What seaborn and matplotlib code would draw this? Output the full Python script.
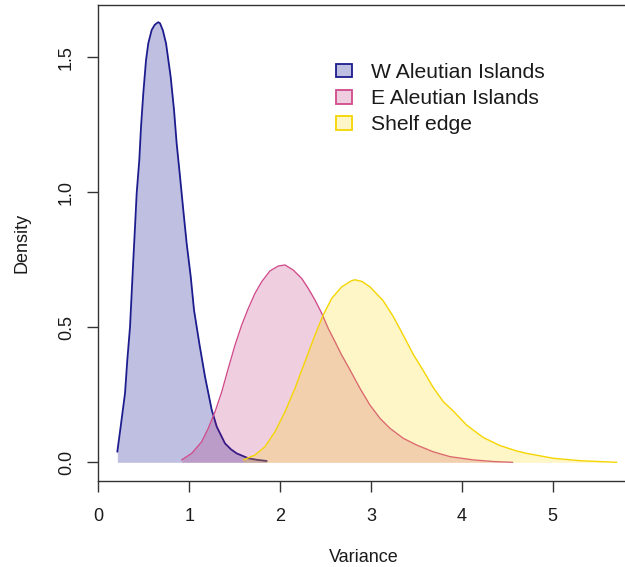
import matplotlib
matplotlib.use("Agg")
import matplotlib.pyplot as plt
import seaborn as sns
import pandas as pd
from matplotlib.patches import Patch

# ---- data ----
w_x = [0.209, 0.246, 0.294, 0.319, 0.349, 0.367, 0.385, 0.404, 0.422, 0.451, 0.470, 0.495,
       0.525, 0.550, 0.587, 0.620, 0.642, 0.660, 0.679, 0.710, 0.745, 0.796, 0.833, 0.862,
       0.899, 0.935, 0.972, 1.017, 1.053, 1.111, 1.174, 1.248, 1.303, 1.394, 1.460, 1.523,
       1.650, 1.750, 1.853]
w_y = [0.039, 0.132, 0.256, 0.379, 0.502, 0.626, 0.749, 0.873, 0.996, 1.120, 1.243, 1.367,
       1.490, 1.552, 1.601, 1.620, 1.626, 1.630, 1.626, 1.600, 1.552, 1.428, 1.305, 1.181,
       1.058, 0.934, 0.811, 0.687, 0.564, 0.441, 0.317, 0.194, 0.132, 0.070, 0.048, 0.033,
       0.015, 0.009, 0.005]

e_x = [0.917, 1.027, 1.137, 1.210, 1.284, 1.358, 1.430, 1.504, 1.578, 1.650, 1.724, 1.798,
       1.889, 1.980, 2.054, 2.145, 2.238, 2.310, 2.384, 2.458, 2.530, 2.604, 2.678, 2.760,
       2.879, 2.989, 3.099, 3.209, 3.355, 3.503, 3.685, 3.869, 4.125, 4.345, 4.559]
e_y = [0.009, 0.033, 0.076, 0.126, 0.187, 0.261, 0.348, 0.434, 0.509, 0.570, 0.626, 0.669,
       0.709, 0.727, 0.731, 0.712, 0.681, 0.644, 0.601, 0.552, 0.496, 0.447, 0.397, 0.348,
       0.274, 0.212, 0.163, 0.126, 0.089, 0.064, 0.039, 0.021, 0.009, 0.003, 0.000]

s_x = [1.595, 1.724, 1.834, 1.944, 2.054, 2.164, 2.274, 2.384, 2.475, 2.568, 2.678, 2.788,
       2.824, 2.900, 2.989, 3.135, 3.245, 3.355, 3.465, 3.575, 3.685, 3.795, 3.905, 4.052,
       4.235, 4.419, 4.603, 4.713, 5.006, 5.299, 5.703]
s_y = [0.009, 0.027, 0.058, 0.113, 0.187, 0.274, 0.373, 0.471, 0.546, 0.607, 0.650, 0.673,
       0.676, 0.670, 0.650, 0.598, 0.540, 0.471, 0.400, 0.340, 0.277, 0.225, 0.190, 0.138,
       0.092, 0.062, 0.042, 0.033, 0.015, 0.006, 0.000]

series_names = ["W Aleutian Islands", "E Aleutian Islands", "Shelf edge"]
x_ticks = [0, 1, 2, 3, 4, 5]
y_ticks = [0.0, 0.5, 1.0, 1.5]
y_tick_labels = ["0.0", "0.5", "1.0", "1.5"]

# ---- styling ----
fill_base = ["#00008B", "#AF0F5F", "#FFD700"]
fill_alpha = [0.25, 0.2, 0.215]
line_cols = ["#1C1C8E", "#D04A8A", "#F5D500"]
line_w = [1.3, 0.95, 1.0]

sns.set_theme(style="white")
plt.rcParams["font.family"] = ["Liberation Sans", "DejaVu Sans"]
plt.rcParams["text.color"] = "#1a1a1a"

fig = plt.figure(figsize=(6.25, 5.67), dpi=100)
ax = fig.add_axes([0.1573, 0.1522, 0.8507, 0.8381])

data = [(w_x, w_y), (e_x, e_y), (s_x, s_y)]
for i, ((xs, ys), name) in enumerate(zip(data, series_names)):
    df = pd.DataFrame({"Variance": xs, "Density": ys})
    ax.fill_between(df["Variance"], df["Density"], 0, color=fill_base[i],
                    alpha=fill_alpha[i], linewidth=0, zorder=2 + 2 * i)
    sns.lineplot(data=df, x="Variance", y="Density", ax=ax, color=line_cols[i],
                 linewidth=line_w[i], sort=False, zorder=3 + 2 * i, legend=False)

ax.set_xlim(0, 5.85)
ax.set_ylim(-0.0681, 1.6919)
ax.set_xticks(x_ticks)
ax.set_xticklabels([str(t) for t in x_ticks])
ax.set_yticks(y_ticks)
ax.set_yticklabels(y_tick_labels, rotation=90, va="center")

for sp in ax.spines.values():
    sp.set_color("#333333")
    sp.set_linewidth(1.0)

ax.tick_params(axis="both", which="both", direction="out", length=8, width=1.0,
               color="#333333", labelsize=13, labelcolor="#1a1a1a")
ax.tick_params(axis="x", pad=11.7, bottom=True)
ax.tick_params(axis="y", pad=8.7, left=True)

ax.set_xlabel("Variance", fontsize=13, color="#1a1a1a")
ax.set_ylabel("Density", fontsize=13, color="#1a1a1a")
ax.xaxis.set_label_coords(0.5, -0.1606)
ax.xaxis.label.set_va("center")
ax.yaxis.set_label_coords(-0.1435, 0.5)
ax.yaxis.label.set_va("center")

handles = [Patch(facecolor=matplotlib.colors.to_rgba(fill_base[i], fill_alpha[i]),
                 edgecolor=line_cols[i], linewidth=1.3, label=series_names[i])
           for i in range(3)]
ax.legend(handles=handles, loc="upper left", bbox_to_anchor=(335.7 / 625, 1 - 63 / 567),
          bbox_transform=fig.transFigure, frameon=False, fontsize=15.2,
          handlelength=0.76, handleheight=0.62, handletextpad=0.9,
          labelspacing=0.34, borderpad=0, borderaxespad=0)

fig.savefig("out.png", dpi=100)
